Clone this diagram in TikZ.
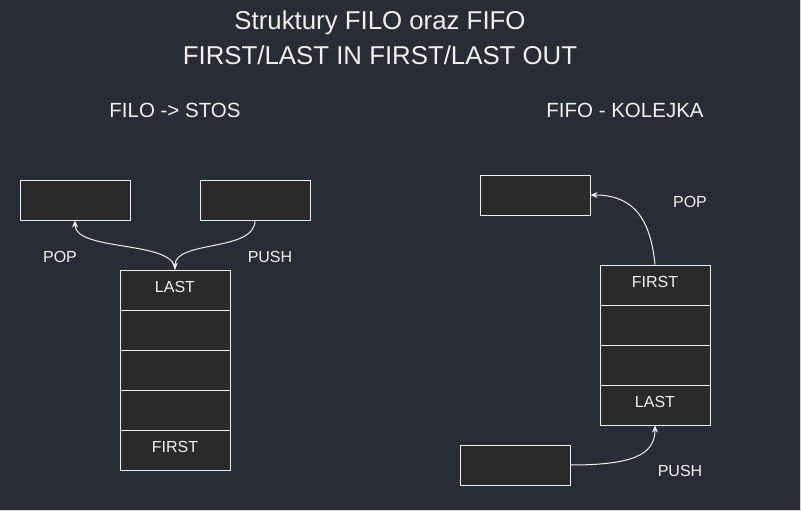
\documentclass[tikz,border=0pt]{standalone}
\usepackage{fontspec}
\setmainfont{Liberation Sans}
\usetikzlibrary{arrows.meta}
\definecolor{bg}{RGB}{40,44,52}
\definecolor{boxfill}{RGB}{42,42,42}
\definecolor{fg}{RGB}{240,240,240}
\tikzset{
  cell/.style={draw=fg, fill=boxfill, line width=1pt, minimum width=110pt, minimum height=40pt, inner sep=0pt},
  celltext/.style={text=fg, inner sep=0pt, font=\fontsize{16}{18}\selectfont},
  lbl/.style={text=fg, inner sep=0pt, font=\fontsize{16}{18}\selectfont},
  head/.style={text=fg, inner sep=0pt, font=\fontsize{20.5}{24}\selectfont},
  ttl/.style={text=fg, inner sep=0pt, font=\fontsize{25.8}{30}\selectfont},
  conn/.style={draw=fg, line width=1pt, -{Stealth[length=7pt,width=6pt]}}
}
\begin{document}
\begin{tikzpicture}[x=1pt,y=-1pt]
\useasboundingbox (0,0) rectangle (801,511);
\fill[bg] (0,0) rectangle (801,511);
\draw[fg!85!bg, line width=1pt] (800.5,0) -- (800.5,510.5) -- (0,510.5);

\node[ttl] (t1) at (380,23) {Struktury FILO oraz FIFO};
\node[ttl] (t2) at (380,55) {FIRST/LAST IN FIRST/LAST OUT};
\node[head] (h1) at (175,110) {FILO -> STOS};
\node[head] (h2) at (625,110) {FIFO - KOLEJKA};

% left
\node[cell] (a) at (75,200) {};
\node[cell] (b) at (255,200) {};
\node[cell] (s1) at (175,290) {};
\node[cell] (s2) at (175,330) {};
\node[cell] (s3) at (175,370) {};
\node[cell] (s4) at (175,410) {};
\node[cell] (s5) at (175,450) {};
\node[celltext] (s1t) at (175,287) {LAST};
\node[celltext] (s5t) at (175,447) {FIRST};
\node[lbl] (pop1) at (60,257) {POP};
\node[lbl] (push1) at (270,257) {PUSH};

\draw[conn] (s1.north) .. controls (175,240) and (75,252) .. (a.south);
\draw[conn] (b.south) .. controls (255,252) and (175,240) .. (s1.north);

% right
\node[cell] (c) at (535,195) {};
\node[cell] (q1) at (655,285) {};
\node[cell] (q2) at (655,325) {};
\node[cell] (q3) at (655,365) {};
\node[cell] (q4) at (655,405) {};
\node[celltext] (q1t) at (655,282) {FIRST};
\node[celltext] (q4t) at (655,402) {LAST};
\node[cell] (d) at (515,465) {};
\node[lbl] (pop2) at (690,202) {POP};
\node[lbl] (push2) at (680,471) {PUSH};

\draw[conn] (q1.north) .. controls (650,212) and (628,195) .. (c.east);
\draw[conn] (d.east) .. controls (632,465) and (655,455) .. (q4.south);
\end{tikzpicture}
\end{document}
